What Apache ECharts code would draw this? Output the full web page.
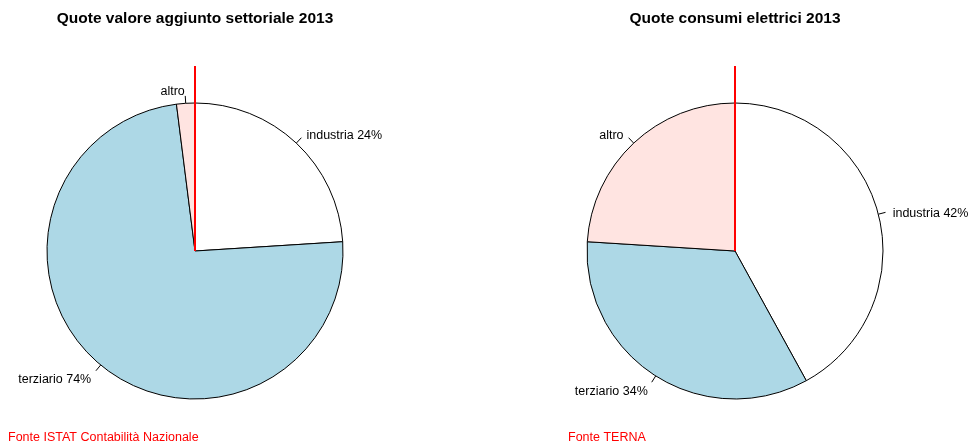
<!DOCTYPE html>
<html>
<head>
<meta charset="utf-8">
<script src="https://cdn.jsdelivr.net/npm/echarts@6/dist/echarts.min.js"></script>
<style>
  html, body { margin: 0; padding: 0; background: #fff; }
  #chart { width: 970px; height: 441px; }
</style>
</head>
<body>
<div id="chart"></div>
<script>
// Sector shares, 2013
const categories = ['industria', 'terziario', 'altro'];
const valueAddedShares = [24, 74, 2];
const electricityShares = [42, 34, 24];
const valueAddedLabels = ['industria 24%', 'terziario 74%', 'altro'];
const electricityLabels = ['industria 42%', 'terziario 34%', 'altro'];
const sliceColors = ['#FFFFFF', '#ADD8E6', '#FFE4E1'];
const titles = ['Quote valore aggiunto settoriale 2013', 'Quote consumi elettrici 2013'];
const sources = ['Fonte ISTAT Contabilità Nazionale', 'Fonte TERNA'];

const FONT = '"Liberation Sans", Arial, sans-serif';
const R = 148;
const centers = [[195, 251], [735, 251]];
const shareSets = [valueAddedShares, electricityShares];
const labelSets = [valueAddedLabels, electricityLabels];

// Mid angle (radians, clockwise from 12 o'clock) of each slice
function midAngles(values) {
  const total = values.reduce((a, b) => a + b, 0);
  let acc = 0;
  return values.map(v => {
    const mid = (acc + v / 2) / total * 2 * Math.PI;
    acc += v;
    return mid;
  });
}

function polar(c, r, a) {
  return [c[0] + r * Math.sin(a), c[1] - r * Math.cos(a)];
}

const series = shareSets.map((vals, si) => {
  const mids = midAngles(vals);
  const c = centers[si];
  return {
    type: 'pie',
    center: c,
    radius: R,
    startAngle: 90,
    clockwise: true,
    avoidLabelOverlap: false,
    animation: false,
    silent: true,
    data: categories.map((name, i) => ({
      name: name,
      value: vals[i],
      itemStyle: { color: sliceColors[i] },
      label: { formatter: labelSets[si][i] }
    })),
    itemStyle: { borderColor: '#000', borderWidth: 1 },
    label: {
      show: true,
      position: 'outside',
      fontFamily: FONT,
      fontSize: 12.5,
      color: '#000'
    },
    labelLine: {
      show: true,
      length: 7,
      length2: 0,
      lineStyle: { color: '#000', width: 1 }
    },
    // Labels sit at 1.1 radius along each slice's middle, ticks run from 1.0 to 1.05 radius
    labelLayout: function (p) {
      const a = mids[p.dataIndex];
      const p1 = polar(c, R, a);
      const p2 = polar(c, R * 1.05, a);
      const p3 = polar(c, R * 1.1, a);
      return {
        x: p3[0],
        y: p3[1] + 3,
        align: Math.sin(a) < 0 ? 'right' : 'left',
        verticalAlign: 'middle',
        labelLinePoints: [p1, p2, p2]
      };
    },
    emphasis: { disabled: true }
  };
});

const chart = echarts.init(document.getElementById('chart'), null, { renderer: 'canvas' });
chart.setOption({
  backgroundColor: '#fff',
  title: [
    { text: titles[0], left: centers[0][0], top: 11, padding: 0, textAlign: 'center',
      textStyle: { fontFamily: FONT, fontSize: 15.5, fontWeight: 'bold', color: '#000' } },
    { text: titles[1], left: centers[1][0], top: 11, padding: 0, textAlign: 'center',
      textStyle: { fontFamily: FONT, fontSize: 15.5, fontWeight: 'bold', color: '#000' } },
    { text: sources[0], left: 8, top: 431, padding: 0,
      textStyle: { fontFamily: FONT, fontSize: 12.5, fontWeight: 'normal', color: '#FF0000' } },
    { text: sources[1], left: 568, top: 431, padding: 0,
      textStyle: { fontFamily: FONT, fontSize: 12.5, fontWeight: 'normal', color: '#FF0000' } }
  ],
  series: series,
  graphic: centers.map(c => ({
    type: 'line',
    z: 100,
    shape: { x1: c[0], y1: c[1] - R * 1.25, x2: c[0], y2: c[1] },
    style: { stroke: '#FF0000', lineWidth: 2 }
  }))
});
</script>
</body>
</html>
